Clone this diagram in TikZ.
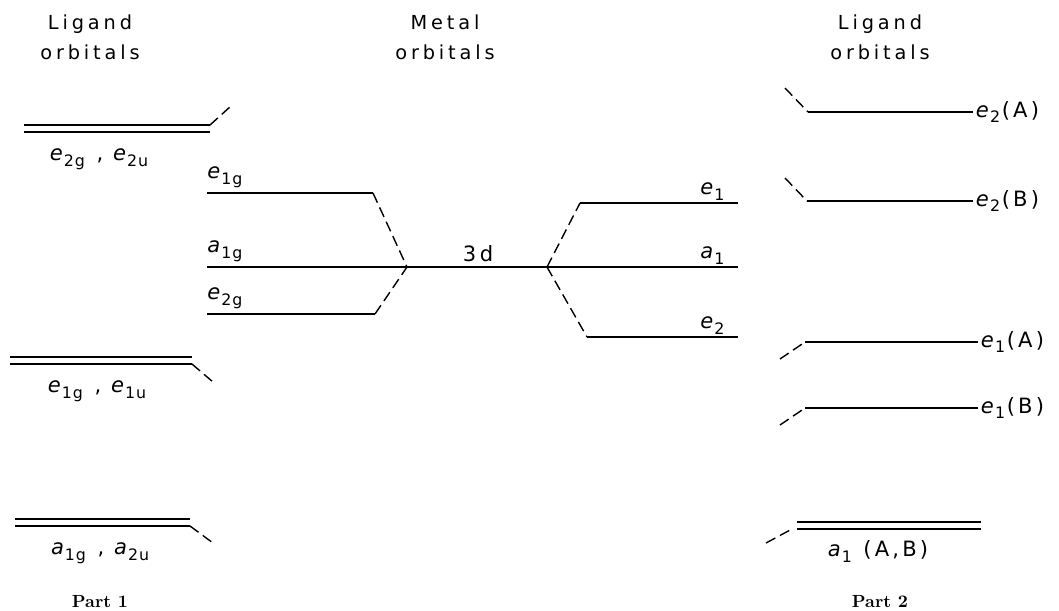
\documentclass[tikz,border=0pt]{standalone}
\usepackage{fontspec}
\usetikzlibrary{positioning}
\newfontfamily\orbfont[LetterSpace=15]{DejaVu Sans}
\newfontfamily\subfont[LetterSpace=6]{DejaVu Sans}
\newfontfamily\headfont[LetterSpace=20]{DejaVu Sans}
\newcommand{\orb}[2]{\textit{#1}\kern-1.2pt\raisebox{-0.5ex}{\subfont\fontsize{9}{9}\selectfont #2}\kern1pt\relax}
\tikzset{
  every picture/.style={font=\orbfont\fontsize{12}{14}\selectfont},
  level/.style={line width=0.8pt},
  corr/.style={line width=0.8pt, dash pattern=on 6pt off 3pt},
  head/.style={font=\headfont\fontsize{11}{17}\selectfont, align=center},
  part/.style={font=\rmfamily\bfseries\fontsize{10}{12}\selectfont},
  lab/.style={inner sep=1.5pt},
  toplab/.style={inner sep=3pt},
  sublab/.style={inner sep=4.5pt, yshift=-5pt}
}
\begin{document}
\begin{tikzpicture}[x=0.02cm,y=-0.02cm]
  \useasboundingbox (0,0) rectangle (1059,610);
  % headings
  \node[head] (hleft) at (90,37) {Ligand\\orbitals};
  \node[head] (hmid) at (445,37) {Metal\\orbitals};
  \node[head] (hright) at (880,37) {Ligand\\orbitals};
  \node[part] (part1) at (100,602) {Part 1};
  \node[part] (part2) at (880,602) {Part 2};

  % part 1: ligand levels
  \coordinate (Lea) at (24,125);  \coordinate (Leb) at (210,125);
  \coordinate (Lec) at (24,132);  \coordinate (Led) at (210,132);
  \coordinate (Les) at (231,106);
  \draw[level] (Lea) -- (Leb);
  \draw[level] (Lec) -- (Led);
  \draw[corr] (Leb) -- (Les);
  \node[sublab,below] (Lelab) at (100,132) {\orb{e}{2g} , \orb{e}{2u}};

  \coordinate (Lfa) at (10,357);  \coordinate (Lfb) at (192,357);
  \coordinate (Lfc) at (10,364);  \coordinate (Lfd) at (192,364);
  \coordinate (Lfs) at (213,382);
  \draw[level] (Lfa) -- (Lfb);
  \draw[level] (Lfc) -- (Lfd);
  \draw[corr] (Lfd) -- (Lfs);
  \node[sublab,below] (Lflab) at (98,364) {\orb{e}{1g} , \orb{e}{1u}};

  \coordinate (Lga) at (15,519);  \coordinate (Lgb) at (190,519);
  \coordinate (Lgc) at (15,526);  \coordinate (Lgd) at (190,526);
  \coordinate (Lgs) at (213,543);
  \draw[level] (Lga) -- (Lgb);
  \draw[level] (Lgc) -- (Lgd);
  \draw[corr] (Lgd) -- (Lgs);
  \node[sublab,below] (Lglab) at (101,526) {\orb{a}{1g} , \orb{a}{2u}};

  % part 1: metal levels
  \coordinate (Me1) at (207,193);  \coordinate (Me1b) at (373,193);
  \coordinate (Ma1) at (207,267);
  \coordinate (Me2) at (207,314);  \coordinate (Me2b) at (375,314);
  \coordinate (D1) at (407,267);
  \coordinate (D2) at (547,267);
  \draw[level] (Me1) -- (Me1b);
  \draw[level] (Me2) -- (Me2b);
  \draw[corr] (Me1b) -- (D1);
  \draw[corr] (Me2b) -- (D1);
  \node[toplab,above right,xshift=-3pt] (Me1lab) at (Me1) {\orb{e}{1g}};
  \node[toplab,above right,xshift=-3pt] (Ma1lab) at (Ma1) {\orb{a}{1g}};
  \node[toplab,above right,xshift=-3pt] (Me2lab) at (Me2) {\orb{e}{2g}};

  % 3d
  \coordinate (Ra1) at (738,267);
  \draw[level] (Ma1) -- (D1) -- (D2) -- (Ra1);
  \node[lab,above] (dlab) at (478,265) {3\kern2pt d};

  % part 2: metal levels
  \coordinate (Re1a) at (580,203);  \coordinate (Re1) at (738,203);
  \coordinate (Re2a) at (587,337);  \coordinate (Re2) at (738,337);
  \draw[corr] (D2) -- (Re1a);
  \draw[corr] (D2) -- (Re2a);
  \draw[level] (Re1a) -- (Re1);
  \draw[level] (Re2a) -- (Re2);
  \node[lab,above left,xshift=-5pt] (Re1lab) at (Re1) {\orb{e}{1}};
  \node[lab,above left,xshift=-5pt] (Ra1lab) at (Ra1) {\orb{a}{1}};
  \node[lab,above left,xshift=-5pt] (Re2lab) at (Re2) {\orb{e}{2}};

  % part 2: ligand levels
  \coordinate (Pe2As) at (785,88);  \coordinate (Pe2Aa) at (808,112);  \coordinate (Pe2Ab) at (973,112);
  \coordinate (Pe2Bs) at (785,178); \coordinate (Pe2Ba) at (807,201);  \coordinate (Pe2Bb) at (973,201);
  \coordinate (Pe1As) at (780,359); \coordinate (Pe1Aa) at (805,342);  \coordinate (Pe1Ab) at (978,342);
  \coordinate (Pe1Bs) at (780,425); \coordinate (Pe1Ba) at (805,408);  \coordinate (Pe1Bb) at (978,408);
  \draw[corr] (Pe2As) -- (Pe2Aa);  \draw[level] (Pe2Aa) -- (Pe2Ab);
  \draw[corr] (Pe2Bs) -- (Pe2Ba);  \draw[level] (Pe2Ba) -- (Pe2Bb);
  \draw[corr] (Pe1As) -- (Pe1Aa);  \draw[level] (Pe1Aa) -- (Pe1Ab);
  \draw[corr] (Pe1Bs) -- (Pe1Ba);  \draw[level] (Pe1Ba) -- (Pe1Bb);
  \node[lab,right] (Pe2Alab) at (Pe2Ab) {\orb{e}{2}(A)};
  \node[lab,right] (Pe2Blab) at (Pe2Bb) {\orb{e}{2}(B)};
  \node[lab,right] (Pe1Alab) at (Pe1Ab) {\orb{e}{1}(A)};
  \node[lab,right] (Pe1Blab) at (Pe1Bb) {\orb{e}{1}(B)};

  \coordinate (Pa1s) at (766,543);  \coordinate (Pa1e) at (792,529);
  \coordinate (Pa1a) at (797,522);  \coordinate (Pa1b) at (981,522);
  \coordinate (Pa1c) at (797,529);  \coordinate (Pa1d) at (981,529);
  \draw[level] (Pa1a) -- (Pa1b);
  \draw[level] (Pa1c) -- (Pa1d);
  \draw[corr] (Pa1s) -- (Pa1e);
  \node[sublab,below,yshift=3pt] (Pa1lab) at (878,529) {\orb{a}{1} (A,B)};
\end{tikzpicture}
\end{document}
